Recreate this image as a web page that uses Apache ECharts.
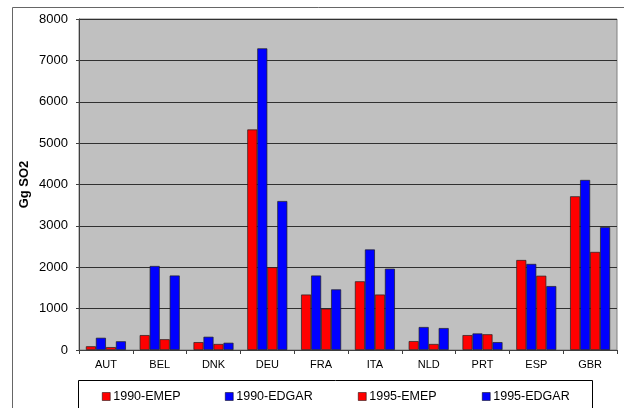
<!DOCTYPE html>
<html>
<head>
<meta charset="utf-8">
<script src="https://cdn.jsdelivr.net/npm/echarts@6/dist/echarts.min.js"></script>
<style>
  html, body { margin: 0; padding: 0; background: #fff; }
  #chart { width: 624px; height: 408px; }
</style>
</head>
<body>
<div id="chart"></div>
<script>
// SO2 emissions by country (Gg), EMEP vs EDGAR inventories, 1990 and 1995
const countries = ['AUT', 'BEL', 'DNK', 'DEU', 'FRA', 'ITA', 'NLD', 'PRT', 'ESP', 'GBR'];
const emep1990  = [90, 360, 190, 5330, 1340, 1660, 215, 360, 2175, 3715];
const edgar1990 = [295, 2030, 320, 7290, 1800, 2430, 555, 400, 2080, 4110];
const emep1995  = [70, 260, 145, 2000, 1000, 1340, 145, 380, 1795, 2370];
const edgar1995 = [210, 1800, 175, 3600, 1465, 1965, 530, 190, 1545, 2970];
const yTicks = [0, 1000, 2000, 3000, 4000, 5000, 6000, 7000, 8000];

const seriesNames = ['1990-EMEP', '1990-EDGAR', '1995-EMEP', '1995-EDGAR'];
const seriesData = [emep1990, edgar1990, emep1995, edgar1995];
const seriesColors = ['#ff0000', '#0000ff', '#ff0000', '#0000ff'];
const legendLefts = [97, 220, 353, 477];

const chart = echarts.init(document.getElementById('chart'));

chart.setOption({
  backgroundColor: '#ffffff',
  animation: false,
  textStyle: { fontFamily: 'Liberation Sans, Arial, sans-serif' },
  graphic: [
    { type: 'rect', shape: { x: 12.5, y: 7.5, width: 700, height: 500 },
      style: { fill: 'none', stroke: '#666', lineWidth: 1 }, z: -1 },
    { type: 'rect', shape: { x: 78.5, y: 380.5, width: 514, height: 60 },
      style: { fill: '#fff', stroke: '#000', lineWidth: 1 }, z: -1 }
  ],
  grid: {
    left: 79, top: 19, width: 538, height: 331,
    show: true, backgroundColor: '#c0c0c0', borderColor: '#808080', borderWidth: 1
  },
  legend: seriesNames.map((n, i) => ({
    data: [n], left: legendLefts[i], top: 385,
    itemWidth: 8, itemHeight: 8, icon: 'rect',
    itemStyle: { borderColor: '#000', borderWidth: 0.5 },
    textStyle: { fontSize: 12.5, color: '#000', padding: [0, 0, 0, -2] }
  })),
  xAxis: {
    type: 'category', data: countries,
    axisLine: { lineStyle: { color: '#404040', width: 1 } },
    axisTick: { show: true, length: 4, lineStyle: { color: '#404040' } },
    axisLabel: { color: '#000', fontSize: 11, margin: 9 }
  },
  yAxis: {
    type: 'value', min: 0, max: yTicks[yTicks.length - 1], interval: 1000,
    name: 'Gg SO2', nameLocation: 'middle', nameGap: 48, nameMoveOverlap: false,
    nameTextStyle: { fontWeight: 'bold', fontSize: 13, color: '#000' },
    axisLine: { show: true, lineStyle: { color: '#404040' } },
    axisTick: { show: true, length: 3, lineStyle: { color: '#404040' } },
    axisLabel: { color: '#000', fontSize: 13, margin: 11,
      formatter: v => yTicks.includes(v) ? String(v) : '' },
    splitLine: { lineStyle: { color: '#303030', width: 1 } }
  },
  series: seriesNames.map((n, i) => ({
    name: n, type: 'bar', data: seriesData[i],
    barWidth: 10, barGap: '0%',
    itemStyle: { color: seriesColors[i], borderColor: '#202020', borderWidth: 0.7 }
  }))
});
</script>
</body>
</html>
